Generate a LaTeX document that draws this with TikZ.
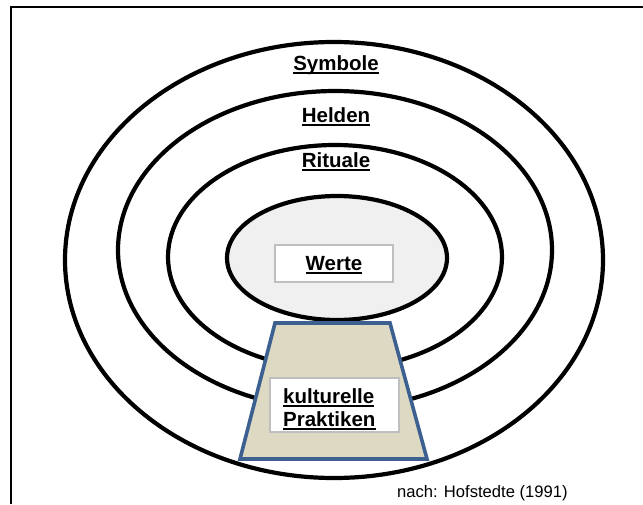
\documentclass[tikz,border=0pt]{standalone}
\usepackage{fontspec}
\setmainfont{Liberation Sans}
\definecolor{ringfill}{HTML}{F0F0F0}
\definecolor{baseblue}{HTML}{3C6090}
\definecolor{basefill}{HTML}{DDD9C3}
\definecolor{boxgray}{HTML}{BFBFBF}
% bold text with a fixed underline that does not change the box size
\newcommand{\ulbold}[1]{\setbox0\hbox{\bfseries #1}\rlap{\smash{\rule[-3.6pt]{\wd0}{1.9pt}}}\box0}
\tikzset{
  ring/.style={draw=black, line width=4.2pt},
  layerlabel/.style={inner sep=0pt, anchor=base, font=\fontsize{20.5}{24}\selectfont},
  labelbox/.style={draw=boxgray, line width=1.9pt, fill=white, inner sep=0pt},
}
\begin{document}
\begin{tikzpicture}[x=1pt, y=-1pt]
\useasboundingbox (0,0) rectangle (643,504);
% frame (left and top edges only, the rest runs off the page)
\draw[line width=2.6pt] (11,504) -- (11,7) -- (643,7);

% concentric layers
\draw[ring] (334,260) ellipse [x radius=269, y radius=218];
\draw[ring] (335,250) ellipse [x radius=217, y radius=159];
\draw[ring] (335,257) ellipse [x radius=167, y radius=112];
\draw[ring, fill=ringfill] (337,258) ellipse [x radius=110, y radius=62];

% practices column
\draw[draw=baseblue, fill=basefill, line width=3.6pt, line join=miter]
  (275,323) -- (390,323) -- (427,459) -- (240,459) -- cycle;

% layer labels
\node[layerlabel] (symbole) at (336,70) {\ulbold{Symbole}};
\node[layerlabel] (helden) at (336,122) {\ulbold{Helden}};
\node[layerlabel] (rituale) at (336,167) {\ulbold{Rituale}};

% core
\node[labelbox, minimum width=118pt, minimum height=37pt,
      font=\fontsize{20.5}{24}\selectfont] (werte) at (334,263.5) {\ulbold{Werte}};

% practices label
\node[labelbox, minimum width=129pt, minimum height=54pt] (pbox) at (334.5,405) {};
\node[layerlabel, anchor=base west] (prak1) at (283,403) {\ulbold{kulturelle}};
\node[layerlabel, anchor=base west] (prak2) at (283,426) {\ulbold{Praktiken}};

% source
\node[inner sep=0pt, anchor=base west, font=\fontsize{16.6}{20}\selectfont]
  (quelle) at (397,497) {nach: Hofstedte (1991)};
\end{tikzpicture}
\end{document}
